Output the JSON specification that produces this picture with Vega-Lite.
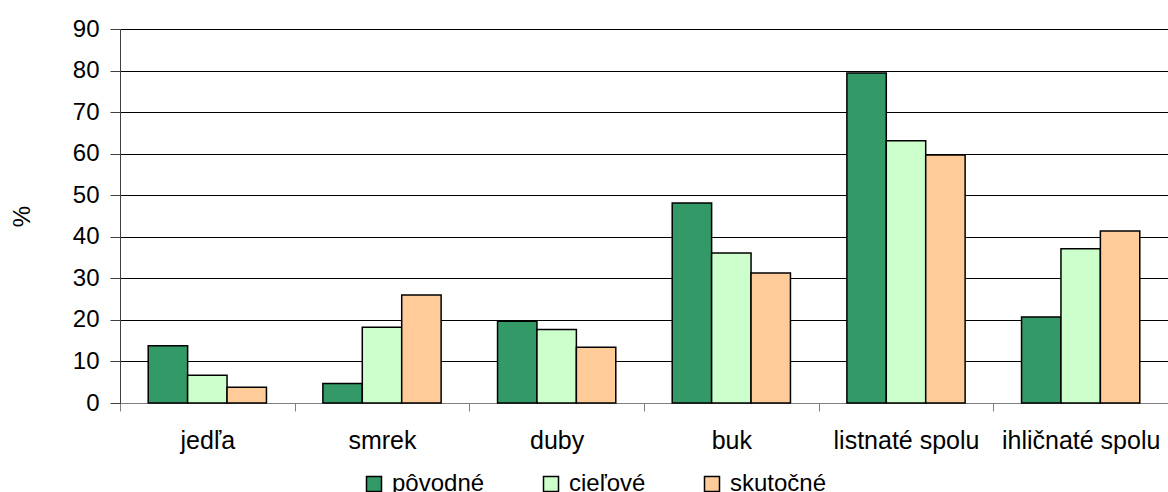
{
  "$schema": "https://vega.github.io/schema/vega-lite/v6.json",
  "description": "Zastúpenie drevín: pôvodné, cieľové a skutočné (%).",
  "autosize": {"type": "none"},
  "padding": {"left": 120, "top": 29, "right": 0, "bottom": 89},
  "width": 1048,
  "height": 374,
  "config": {
    "font": "Liberation Sans",
    "view": {"stroke": null},
    "axis": {"labelFont": "Liberation Sans", "titleFont": "Liberation Sans", "labelColor": "#000", "titleColor": "#000"},
    "legend": {"labelFont": "Liberation Sans", "labelColor": "#000"}
  },
  "data": {
    "values": [
      {"drevina": "jedľa", "typ": "pôvodné", "hodnota": 13.8},
      {"drevina": "jedľa", "typ": "cieľové", "hodnota": 6.7},
      {"drevina": "jedľa", "typ": "skutočné", "hodnota": 3.8},
      {"drevina": "smrek", "typ": "pôvodné", "hodnota": 4.7},
      {"drevina": "smrek", "typ": "cieľové", "hodnota": 18.2},
      {"drevina": "smrek", "typ": "skutočné", "hodnota": 26.0},
      {"drevina": "duby", "typ": "pôvodné", "hodnota": 19.7},
      {"drevina": "duby", "typ": "cieľové", "hodnota": 17.7},
      {"drevina": "duby", "typ": "skutočné", "hodnota": 13.4},
      {"drevina": "buk", "typ": "pôvodné", "hodnota": 48.1},
      {"drevina": "buk", "typ": "cieľové", "hodnota": 36.1},
      {"drevina": "buk", "typ": "skutočné", "hodnota": 31.3},
      {"drevina": "listnaté spolu", "typ": "pôvodné", "hodnota": 79.4},
      {"drevina": "listnaté spolu", "typ": "cieľové", "hodnota": 63.1},
      {"drevina": "listnaté spolu", "typ": "skutočné", "hodnota": 59.7},
      {"drevina": "ihličnaté spolu", "typ": "pôvodné", "hodnota": 20.7},
      {"drevina": "ihličnaté spolu", "typ": "cieľové", "hodnota": 37.1},
      {"drevina": "ihličnaté spolu", "typ": "skutočné", "hodnota": 41.4}
    ]
  },
  "mark": {"type": "bar", "stroke": "#000", "strokeWidth": 1.5},
  "encoding": {
    "x": {
      "field": "drevina",
      "type": "nominal",
      "sort": ["jedľa", "smrek", "duby", "buk", "listnaté spolu", "ihličnaté spolu"],
      "scale": {"paddingInner": 0.323, "paddingOuter": 0.1615},
      "axis": {
        "title": null,
        "labelAngle": 0,
        "labelFontSize": 25,
        "tickOffset": -87.33,
        "labelOffset": 87.33,
        "labelPadding": 17,
        "labelOverlap": false,
        "labelBound": false,
        "labelFlush": false,
        "tickSize": 8,
        "tickColor": "#808080",
        "domainColor": "#808080",
        "grid": false
      }
    },
    "xOffset": {
      "field": "typ",
      "type": "nominal",
      "sort": ["pôvodné", "cieľové", "skutočné"],
      "scale": {"paddingInner": 0, "paddingOuter": 0}
    },
    "y": {
      "field": "hodnota",
      "type": "quantitative",
      "scale": {"domain": [0, 90], "nice": false},
      "axis": {
        "title": "%",
        "titleFontSize": 24,
        "titleFontWeight": "normal",
        "titleAngle": -90,
        "titleX": -98,
        "titleY": 187,
        "titleAlign": "center",
        "titleBaseline": "middle",
        "values": [0, 10, 20, 30, 40, 50, 60, 70, 80, 90],
        "labelFontSize": 24,
        "labelPadding": 11,
        "tickSize": 10,
        "tickColor": "#404040",
        "domainColor": "#404040",
        "grid": true,
        "gridColor": "#000",
        "gridOpacity": 1,
        "gridWidth": 1
      }
    },
    "color": {
      "field": "typ",
      "type": "nominal",
      "scale": {
        "domain": ["pôvodné", "cieľové", "skutočné"],
        "range": ["#339966", "#CCFFCC", "#FFCC99"]
      },
      "legend": {
        "title": null,
        "orient": "none",
        "direction": "horizontal",
        "legendX": 242,
        "legendY": 443,
        "symbolType": "square",
        "symbolSize": 225,
        "symbolStrokeColor": "#000",
        "symbolStrokeWidth": 1.5,
        "symbolOpacity": 1,
        "labelFontSize": 24,
        "labelOffset": 6,
        "columnPadding": 54
      }
    }
  }
}
